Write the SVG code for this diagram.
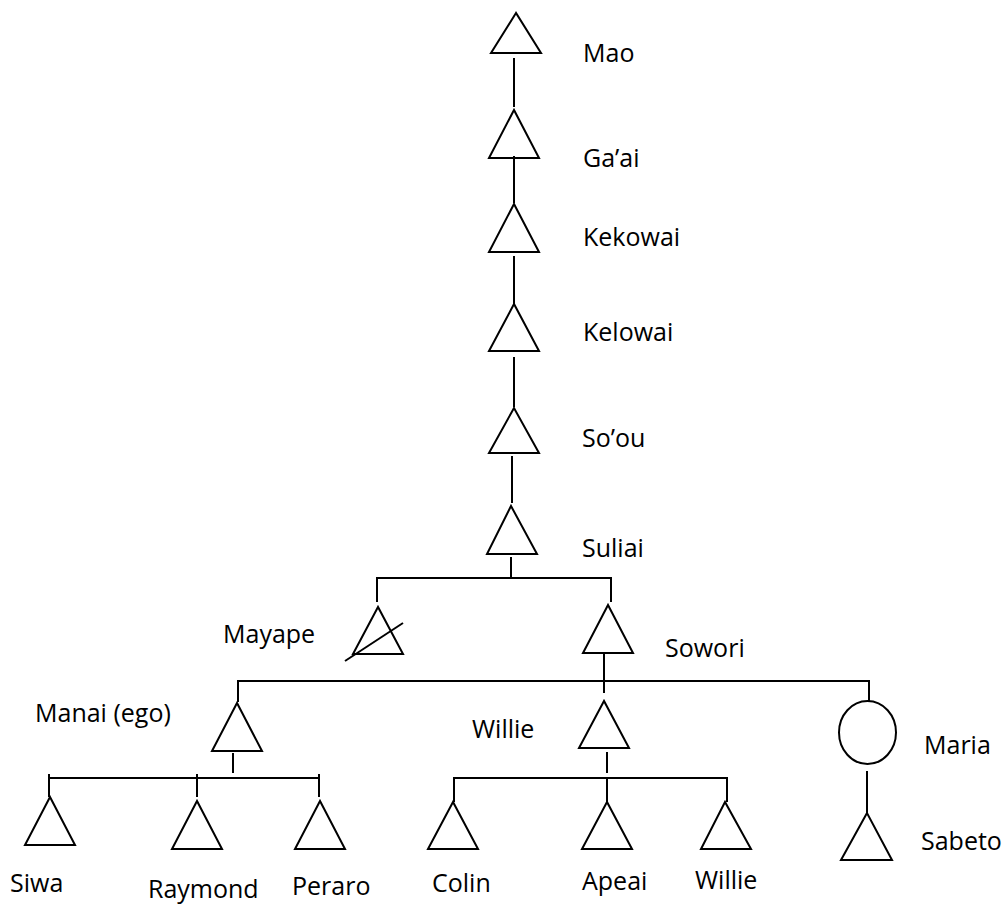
<svg xmlns="http://www.w3.org/2000/svg" width="1008" height="909" viewBox="0 0 1008 909">
  <style>
    .shape { fill: none; stroke: #000; stroke-width: 2; }
    .link { fill: none; stroke: #000; stroke-width: 2; }
    text { font-family: "Open Sans", "Noto Sans", "Liberation Sans", sans-serif; font-size: 25px; fill: #000; }
  </style>
  <rect width="1008" height="909" fill="#fff"/>

  <!-- descent lines and sibling bars -->
  <g id="connectors">
    <path class="link" d="M514 58 V107"/>
    <path class="link" d="M514 156 V203"/>
    <path class="link" d="M514 256 V304"/>
    <path class="link" d="M514 357 V407"/>
    <path class="link" d="M512 456 V503"/>
    <path class="link" d="M511 557 V578"/>
    <path class="link" d="M377 602 V578 H611 V602"/>
    <path class="link" d="M604 652 V693"/>
    <path class="link" d="M238 702 V681 H869 V702"/>
    <path class="link" d="M233 753 V773"/>
    <path class="link" d="M49 778 H319 M49 774 V797 M197 774 V797 M319 774 V797"/>
    <path class="link" d="M607 752 V773"/>
    <path class="link" d="M454 802 V778 H727 V802 M607 778 V802"/>
    <path class="link" d="M867 771 V813"/>
  </g>

  <g id="mao">
    <polygon class="shape" points="516,13 491,53 541,53"/>
    <text x="583" y="62">Mao</text>
  </g>
  <g id="gaai">
    <polygon class="shape" points="514,110 489,158 539,158"/>
    <text x="583" y="167">Ga’ai</text>
  </g>
  <g id="kekowai">
    <polygon class="shape" points="514,204 489,252 539,252"/>
    <text x="583" y="246">Kekowai</text>
  </g>
  <g id="kelowai">
    <polygon class="shape" points="514,304 489,351 539,351"/>
    <text x="583" y="341">Kelowai</text>
  </g>
  <g id="soou">
    <polygon class="shape" points="514,408 489,453 539,453"/>
    <text x="582" y="447">So’ou</text>
  </g>
  <g id="suliai">
    <polygon class="shape" points="511,506 487,554 537,554"/>
    <text x="582" y="557">Suliai</text>
  </g>
  <g id="mayape">
    <polygon class="shape" points="378,607 353,654 403,654"/>
    <line class="shape" x1="345" y1="661" x2="403" y2="623"/>
    <text x="223" y="643">Mayape</text>
  </g>
  <g id="sowori">
    <polygon class="shape" points="608,605 583,653 633,653"/>
    <text x="665" y="657">Sowori</text>
  </g>
  <g id="manai">
    <polygon class="shape" points="237,703 212,751 262,751"/>
    <text x="35" y="722">Manai (ego)</text>
  </g>
  <g id="willie-father">
    <polygon class="shape" points="604,701 579,748 629,748"/>
    <text x="472" y="738">Willie</text>
  </g>
  <g id="maria">
    <ellipse class="shape" cx="867.5" cy="732.5" rx="28.5" ry="31.5"/>
    <text x="924" y="754">Maria</text>
  </g>
  <g id="siwa">
    <polygon class="shape" points="50,797 25,845 75,845"/>
    <text x="10" y="892">Siwa</text>
  </g>
  <g id="raymond">
    <polygon class="shape" points="197,801 172,849 222,849"/>
    <text x="148" y="898">Raymond</text>
  </g>
  <g id="peraro">
    <polygon class="shape" points="320,801 295,849 345,849"/>
    <text x="292" y="895">Peraro</text>
  </g>
  <g id="colin">
    <polygon class="shape" points="453,802 428,849 478,849"/>
    <text x="432" y="892">Colin</text>
  </g>
  <g id="apeai">
    <polygon class="shape" points="607,802 582,849 632,849"/>
    <text x="582" y="890">Apeai</text>
  </g>
  <g id="willie-son">
    <polygon class="shape" points="725,802 701,849 751,849"/>
    <text x="695" y="889">Willie</text>
  </g>
  <g id="sabeto">
    <polygon class="shape" points="867,813 841,860 892,860"/>
    <text x="921" y="850">Sabeto</text>
  </g>
</svg>
